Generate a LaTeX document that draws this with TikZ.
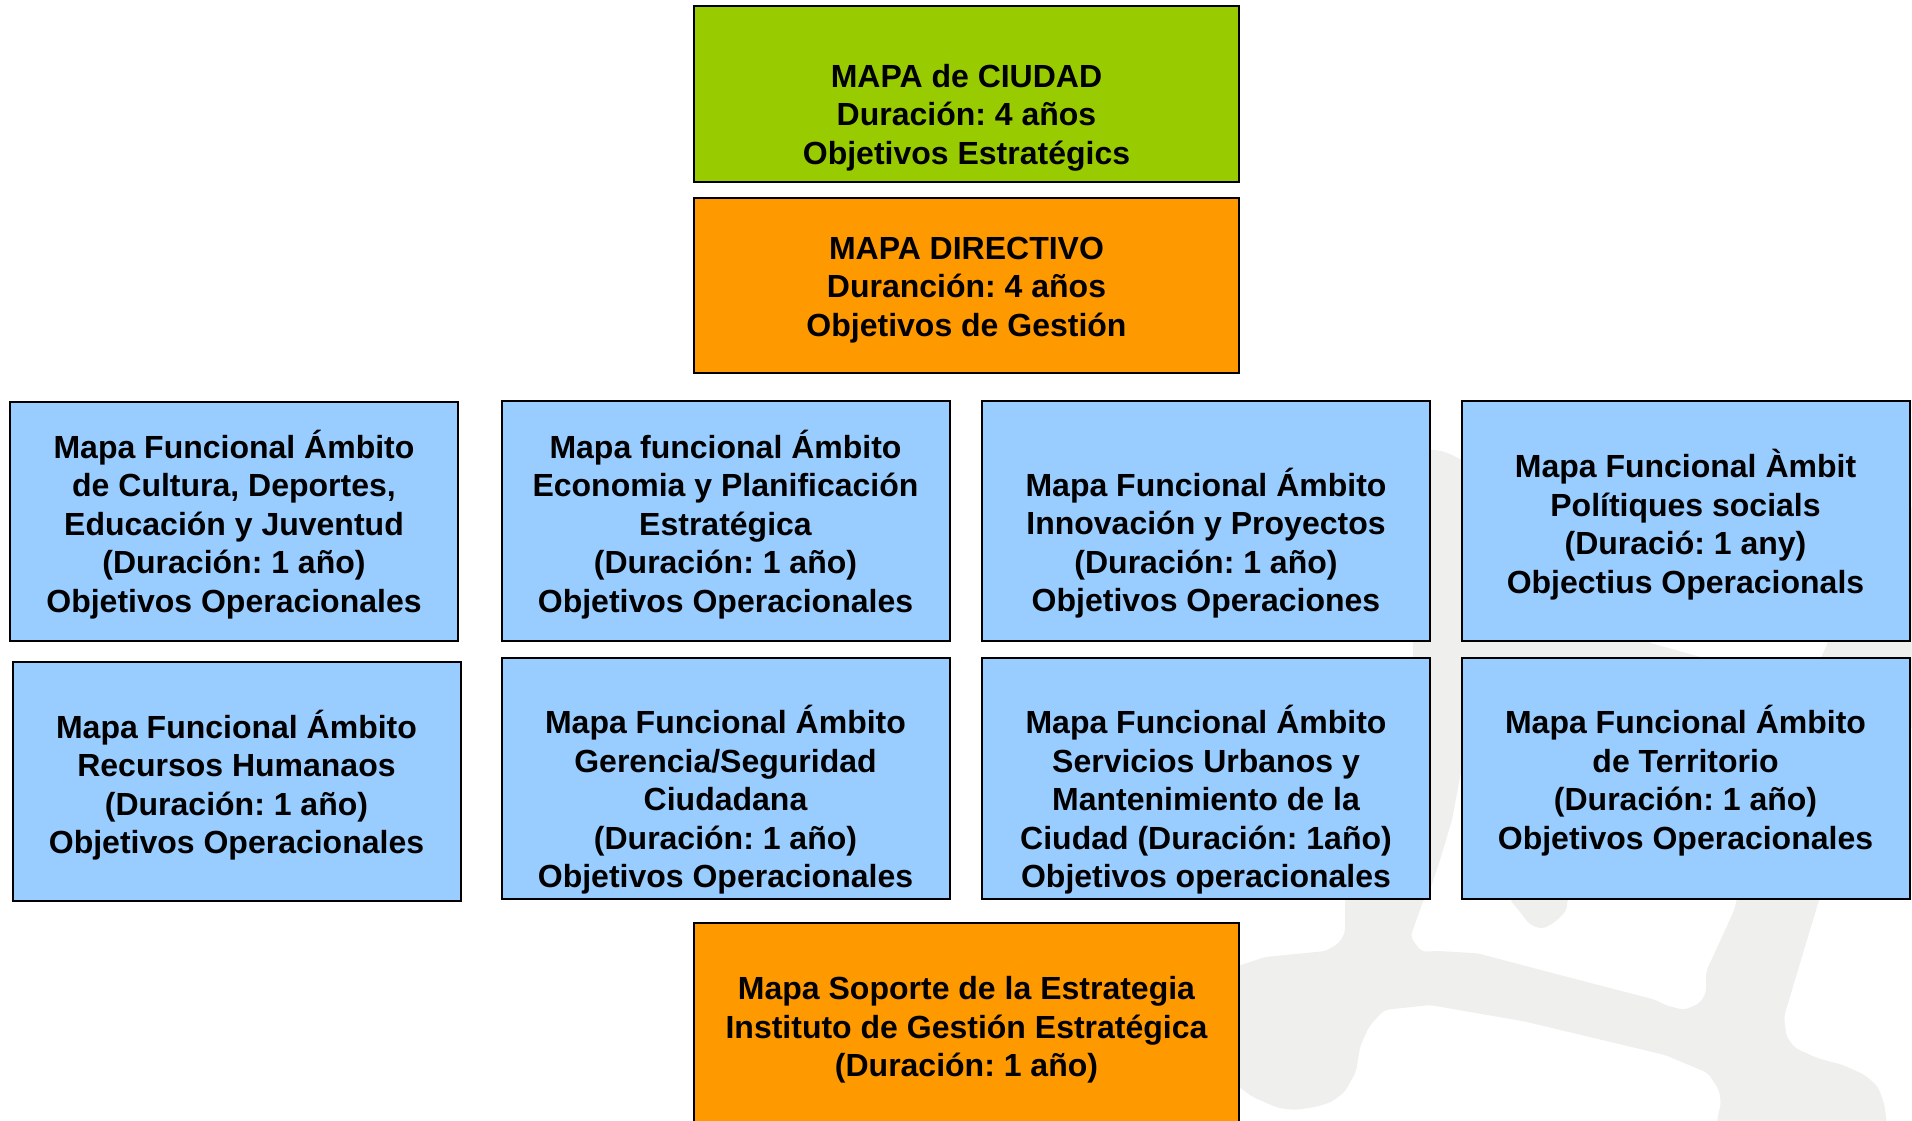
\documentclass[tikz,border=0pt]{standalone}
\usepackage{fontspec}
\setmainfont{Liberation Sans}
\frenchspacing
\definecolor{cgreen}{HTML}{99CC00}
\definecolor{corange}{HTML}{FF9900}
\definecolor{cblue}{HTML}{99CCFF}
\definecolor{cwater}{RGB}{239,239,237}
\tikzset{
  boxbase/.style={draw=black, line width=2pt, rectangle, inner sep=0pt},
  greenbox/.style={boxbase, fill=cgreen, minimum width=545pt},
  orangebox/.style={boxbase, fill=corange, minimum width=545pt},
  bluebox/.style={boxbase, fill=cblue, minimum width=448pt},
  txt/.style={align=center, inner sep=0pt, font=\fontsize{32pt}{38.5pt}\selectfont\bfseries},
}
\begin{document}
\begin{tikzpicture}[x=1pt,y=-1pt]
\useasboundingbox (0,0) rectangle (1912,1120);
\clip (0,0) rectangle (1912,1120);
% watermark
\fill[cwater, rounded corners=5pt]
  (1200,975) -- (1241,965) -- (1265,957) -- (1326,951) -- (1339,943) -- (1345,933) -- (1345,900)
  -- (1370,780) -- (1400,690) -- (1413,658) -- (1413,642)
  -- (1405,560) -- (1400,500) -- (1410,462) -- (1430,449) -- (1446,452) -- (1462,460)
  -- (1520,490) -- (1580,540) -- (1625,600) -- (1647,642) -- (1704,658)
  -- (1740,672) -- (1760,690) -- (1740,740) -- (1680,800) -- (1610,860) -- (1575,890)
  -- (1567,900) -- (1567,910) -- (1555,922) -- (1543,929) -- (1530,925) -- (1520,912) -- (1510,900)
  -- (1495,820) -- (1480,760) -- (1470,755) -- (1462,767)
  -- (1452,820) -- (1440,860) -- (1430,890) -- (1423.5,900) -- (1410.4,936.7) -- (1421.3,951.7)
  -- (1438.7,951) -- (1477.8,953.3) -- (1547.4,971.7) -- (1656,1000) -- (1664.8,1005) -- (1684.3,1010)
  -- (1699.6,1003.3) -- (1706,993.3) -- (1706,971.7) -- (1734.3,910) -- (1736.5,900)
  -- (1790,760) -- (1821,658) -- (1828,642) -- (1845,570) -- (1880,520) -- (1930,500)
  -- (1930,700) -- (1870,790) -- (1819,900)
  -- (1784,1016.7) -- (1786.5,1036.7) -- (1795,1048) -- (1817,1058) -- (1843,1065) -- (1865,1075)
  -- (1878,1086.7) -- (1884,1103) -- (1886.5,1120) -- (1887,1135) -- (1717,1135)
  -- (1717,1120) -- (1721,1103) -- (1719,1090) -- (1708,1073) -- (1665,1055) -- (1525.7,1021.7)
  -- (1430,1005) -- (1384,1010) -- (1369,1026.7) -- (1360,1046.7) -- (1356,1071.7) -- (1345,1091.7)
  -- (1332,1101.7) -- (1317,1106.7) -- (1295,1110) -- (1278,1108) -- (1252,1096.7) -- (1241,1088)
  -- (1200,1070) -- cycle;
% boxes
\node[greenbox, minimum height=176pt] (ciudad) at (966.5,94) {};
\node[orangebox, minimum height=175pt] (directivo) at (966.5,285.5) {};
\node[bluebox, minimum height=239pt] (r1b1) at (234,521.5) {};
\node[bluebox, minimum height=240pt] (r1b2) at (725.5,521) {};
\node[bluebox, minimum height=240pt] (r1b3) at (1206,521) {};
\node[bluebox, minimum height=240pt] (r1b4) at (1685.5,521) {};
\node[bluebox, minimum height=239pt] (r2b1) at (236.5,781.5) {};
\node[bluebox, minimum height=241pt] (r2b2) at (725.5,778.5) {};
\node[bluebox, minimum height=241pt] (r2b3) at (1206,778.5) {};
\node[bluebox, minimum height=241pt] (r2b4) at (1685.5,778.5) {};
\node[orangebox, minimum height=227pt] (soporte) at (966.5,1036.5) {};
% texts
\node[txt] (ciudadt) at (966.5,117.5) {MAPA de CIUDAD\\Duración: 4 años\\Objetivos Estratégics};
\node[txt] (directivot) at (966.5,290) {MAPA DIRECTIVO\\Duranción: 4 años\\Objetivos de Gestión};
\node[txt] (r1b1t) at (234,524.5) {Mapa Funcional Ámbito\\de Cultura, Deportes,\\Educación y Juventud\\(Duración: 1 año)\\Objetivos Operacionales};
\node[txt] (r1b2t) at (725.5,524.5) {Mapa funcional Ámbito\\Economia y Planificación\\Estratégica\\(Duración: 1 año)\\Objetivos Operacionales};
\node[txt] (r1b3t) at (1206,543) {Mapa Funcional Ámbito\\Innovación y Proyectos\\(Duración: 1 año)\\Objetivos Operaciones};
\node[txt] (r1b4t) at (1685.5,524.5) {Mapa Funcional Àmbit\\Polítiques socials\\(Duració: 1 any)\\Objectius Operacionals};
\node[txt] (r2b1t) at (236.5,785) {Mapa Funcional Ámbito\\Recursos Humanaos\\(Duración: 1 año)\\Objetivos Operacionales};
\node[txt] (r2b2t) at (725.5,800) {Mapa Funcional Ámbito\\Gerencia/Seguridad\\Ciudadana\\(Duración: 1 año)\\Objetivos Operacionales};
\node[txt] (r2b3t) at (1206,800) {Mapa Funcional Ámbito\\Servicios Urbanos y\\Mantenimiento de la\\Ciudad (Duración: 1año)\\Objetivos operacionales};
\node[txt] (r2b4t) at (1685.5,780.5) {Mapa Funcional Ámbito\\de Territorio\\(Duración: 1 año)\\Objetivos Operacionales};
\node[txt] (soportet) at (966.5,1030) {Mapa Soporte de la Estrategia\\Instituto de Gestión Estratégica\\(Duración: 1 año)};
\end{tikzpicture}
\end{document}
